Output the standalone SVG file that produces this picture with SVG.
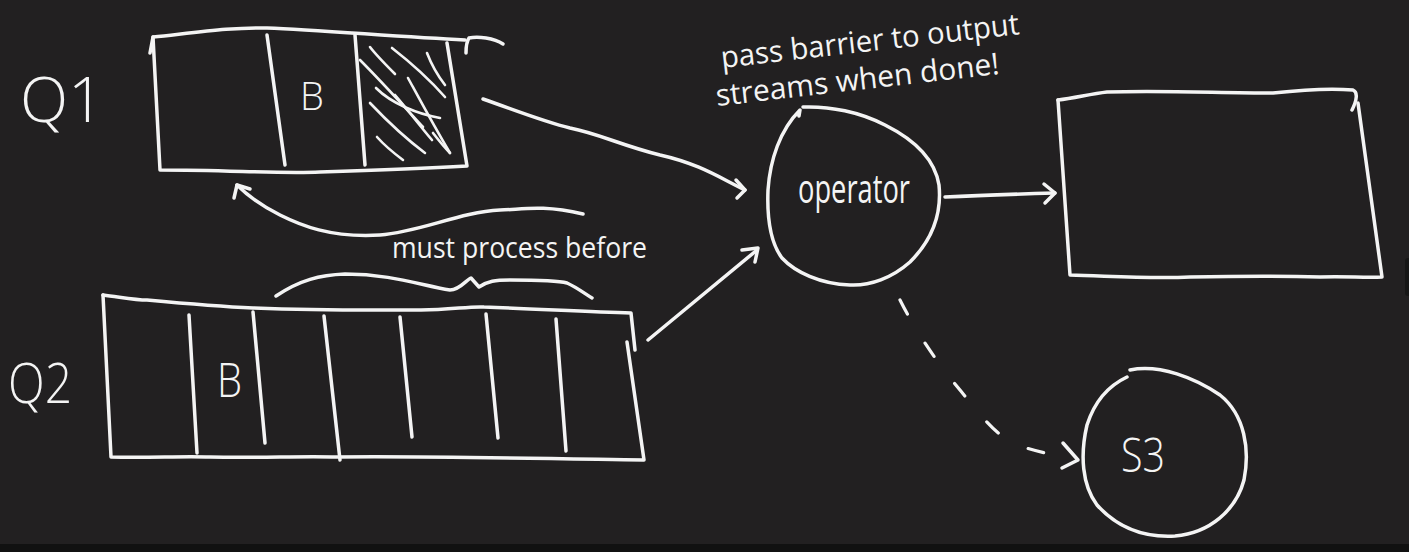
<svg xmlns="http://www.w3.org/2000/svg" width="1409" height="552" viewBox="0 0 1409 552">
<style>
.s{fill:none;stroke:#f4f4f4;stroke-width:3.5;stroke-linecap:round;stroke-linejoin:round}
.h{fill:none;stroke:#f4f4f4;stroke-width:2.6;stroke-linecap:round}
.d{fill:none;stroke:#f4f4f4;stroke-width:3.2;stroke-linecap:round;stroke-dasharray:16 34}
.t{fill:#f4f4f4;font-family:"Open Sans","Liberation Sans",sans-serif;font-weight:400}
</style>
<rect width="1409" height="552" fill="#222021"/>
<rect x="0" y="544" width="1409" height="8" fill="#111111"/>
<rect x="1405" y="258" width="10" height="38" rx="3" fill="#161616"/>

<g id="q1-label"><text class="t" x="20" y="122" font-size="62" textLength="84" lengthAdjust="spacingAndGlyphs" style="font-weight:300">Q1</text></g>

<g id="q1">
<path class="s" d="M150,53 L153,37 C200,32 235,27 267,28 C320,30 400,37 465,40"/>
<path class="s" d="M153,37 L160,170 C230,170 280,174 320,172 C380,170 430,168 467,166 L447,43"/>
<path class="s" d="M267,35 L285,165"/>
<path class="s" d="M355,35 L365,165"/>
<path class="s" d="M466,53 C466,46 467,41 469,38 C478,36 494,38 503,44"/>
<g id="hatch">
<path class="h" d="M370,47 C376,55 383,62 395,74"/>
<path class="h" d="M392,48 C410,62 430,80 445,97"/>
<path class="h" d="M427,53 C432,66 438,76 445,85"/>
<path class="h" d="M360,60 C380,80 400,102 423,127"/>
<path class="h" d="M376,88 C392,104 418,114 440,118"/>
<path class="h" d="M370,103 C388,122 405,138 425,153"/>
<path class="h" d="M408,78 C420,100 435,128 450,153"/>
<path class="h" d="M377,137 C385,146 395,154 403,160"/>
<path class="h" d="M433,133 C440,142 445,148 450,153"/>
<path class="h" d="M395,95 C408,110 420,126 432,140"/>
</g>
<text class="t" x="300" y="110" font-size="38" style="font-weight:300">B</text>
</g>

<g id="q2-label"><text class="t" x="8" y="403" font-size="56" textLength="64" lengthAdjust="spacingAndGlyphs" style="font-weight:300">Q2</text></g>

<g id="q2">
<path class="s" d="M103,295 C120,297 135,300 147,300 C190,304 230,307 253,308 C330,311 380,310 421,310 C450,310 470,306 484,307 C540,309 590,312 631,313 L635,350"/>
<path class="s" d="M103,295 L111,457 C150,458 180,456 210,457 C260,458 300,456 337,457 C420,456 520,458 644,460 L627,342"/>
<path class="s" d="M189,315 L197,453"/>
<path class="s" d="M253,312 L265,443"/>
<path class="s" d="M324,316 L340,460"/>
<path class="s" d="M400,317 L412,437"/>
<path class="s" d="M486,314 L498,438"/>
<path class="s" d="M556,319 L566,451"/>
<text class="t" x="217" y="397" font-size="48" textLength="25" lengthAdjust="spacingAndGlyphs" style="font-weight:300">B</text>
<path class="s" d="M276,296 C300,280 320,275 345,274 C390,274 420,285 450,290 C460,290 466,280 471,278 L479,287 C488,281 495,280 510,280 C540,280 560,281 567,283 C578,288 585,294 592,298"/>
</g>

<g id="note-must"><text class="t" x="392" y="258" font-size="30" textLength="255" lengthAdjust="spacingAndGlyphs">must process before</text></g>

<g id="operator">
<path class="s" d="M803,107 C830,106 860,112 885,125 C915,140 935,160 939,185 C942,215 932,240 910,262 C892,278 870,286 850,285 C820,284 795,272 782,258 C770,242 767,215 768,190 C770,160 780,130 800,110 L799,116"/>
<text class="t" x="798" y="203" font-size="40" textLength="112" lengthAdjust="spacingAndGlyphs">operator</text>
</g>

<g id="note-pass">
<text class="t" x="722" y="68" font-size="30" textLength="300" lengthAdjust="spacingAndGlyphs" transform="rotate(-6.5 722 68)">pass barrier to output</text>
<text class="t" x="717" y="106" font-size="30" textLength="285" lengthAdjust="spacingAndGlyphs" transform="rotate(-6.5 717 106)">streams when done!</text>
</g>

<g id="output">
<path class="s" d="M1058,100 C1075,98 1090,94 1107,92 C1160,90 1220,93 1273,93 C1300,90 1330,88 1353,90 C1358,92 1357,100 1352,110"/>
<path class="s" d="M1058,100 L1070,275 C1110,276 1150,279 1190,277 C1240,276 1290,276 1320,277 C1345,276 1365,278 1382,277 L1358,103"/>
</g>

<g id="s3">
<path class="s" d="M1130,370 C1160,364 1195,378 1220,395 C1245,415 1250,450 1244,480 C1236,510 1210,533 1175,536 C1140,538 1115,525 1097,505 C1082,485 1080,455 1087,425 C1095,400 1110,385 1127,377"/>
<text class="t" x="1121" y="472" font-size="48" textLength="44" lengthAdjust="spacingAndGlyphs" style="font-weight:300">S3</text>
</g>

<g id="connectors">
<path class="s" d="M483,99 C520,112 545,122 570,128 C600,134 620,145 660,155 C700,164 720,178 745,190"/>
<path class="s" d="M736,180 L745,190 L737,198"/>
<path class="s" d="M583,214 C540,204 520,210 500,210 C460,212 420,232 380,235 C330,238 300,225 280,215 C262,206 248,196 237,185"/>
<path class="s" d="M234,198 L237,185 L250,189"/>
<path class="s" d="M648,340 C690,305 725,276 757,250"/>
<path class="s" d="M742,250 L758,248 L755,262"/>
<path class="s" d="M945,197 C985,195 1020,194 1055,193"/>
<path class="s" d="M1044,184 L1055,193 L1045,203"/>
<path class="d" d="M900,300 C915,330 935,360 960,390 C978,412 995,435 1015,444 C1035,452 1055,455 1075,458"/>
<path class="s" d="M1063,443 L1078,460 L1062,468"/>
</g>
</svg>
